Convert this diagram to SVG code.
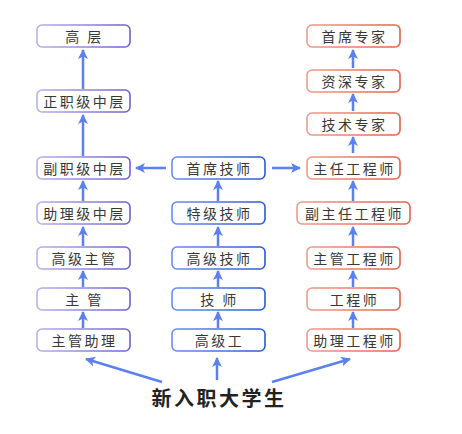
<svg xmlns="http://www.w3.org/2000/svg" width="462" height="434" viewBox="0 0 462 434">
<defs>
<linearGradient id="gp" x1="0" y1="0" x2="1" y2="0"><stop offset="0" stop-color="#b8b0ea"/><stop offset="1" stop-color="#6f5fd0"/></linearGradient>
<linearGradient id="gb" x1="0" y1="0" x2="1" y2="0"><stop offset="0" stop-color="#6a8cf0"/><stop offset="1" stop-color="#2a5ad8"/></linearGradient>
<linearGradient id="gr" x1="0" y1="0" x2="1" y2="0"><stop offset="0" stop-color="#f29a88"/><stop offset="1" stop-color="#e4604c"/></linearGradient>
<marker id="ah" viewBox="0 0 10 10" refX="9" refY="5" markerWidth="4" markerHeight="4" orient="auto" markerUnits="strokeWidth"><path d="M0,0 L10,5 L0,10 L2.5,5 Z" fill="#5b80f0"/></marker>
</defs>
<style>
rect{fill:#fff;stroke-width:1.6}
.p{stroke:url(#gp)}.b{stroke:url(#gb)}.r{stroke:url(#gr)}
text{font-family:"Noto Sans CJK SC","Noto Sans",sans-serif;font-size:14px;fill:#383838;text-anchor:middle;dominant-baseline:central;letter-spacing:2.5px}
.c line{stroke:#5b80f0;stroke-width:2.5;marker-end:url(#ah)}
.big{font-size:20px;font-weight:bold;letter-spacing:2.5px;fill:#222}
</style>
<rect width="462" height="434" fill="#fff" stroke="none"/>
<g class="c">
<line x1="83" y1="89" x2="83" y2="50"/>
<line x1="83" y1="156" x2="83" y2="115"/>
<line x1="218" y1="201" x2="218" y2="181"/>
<line x1="218" y1="246" x2="218" y2="227"/>
<line x1="218" y1="287" x2="218" y2="271"/>
<line x1="218" y1="328" x2="218" y2="312"/>
<line x1="353" y1="68" x2="353" y2="50"/>
<line x1="353" y1="111" x2="353" y2="94"/>
<line x1="353" y1="153" x2="353" y2="137"/>
<line x1="353" y1="201" x2="353" y2="181"/>
<line x1="353" y1="246" x2="353" y2="227"/>
<line x1="353" y1="287" x2="353" y2="271"/>
<line x1="353" y1="328" x2="353" y2="312"/>
<line x1="83" y1="201" x2="83" y2="181"/>
<line x1="83" y1="246" x2="83" y2="227"/>
<line x1="83" y1="287" x2="83" y2="271"/>
<line x1="83" y1="328" x2="83" y2="312"/>
<line x1="166" y1="168" x2="136" y2="168"/>
<line x1="272" y1="168" x2="300" y2="168"/>
<line x1="162" y1="382" x2="86" y2="359"/>
<line x1="217" y1="380" x2="217" y2="358"/>
<line x1="272" y1="382" x2="350" y2="359"/>
</g>
<g id="n-gaoceng"><rect class="p" x="37" y="25" width="93" height="22" rx="5"/><text x="84.5" y="36">高&#160;层</text></g>
<g id="n-zhengzhi"><rect class="p" x="37" y="90" width="93" height="22" rx="5"/><text x="84.5" y="101">正职级中层</text></g>
<g id="n-fuzhi"><rect class="p" x="37" y="157" width="93" height="22" rx="5"/><text x="84.5" y="168">副职级中层</text></g>
<g id="n-zhuli"><rect class="p" x="37" y="202" width="93" height="22" rx="5"/><text x="84.5" y="213">助理级中层</text></g>
<g id="n-gaojizhuguan"><rect class="p" x="37" y="247" width="93" height="22" rx="5"/><text x="84.5" y="258">高级主管</text></g>
<g id="n-zhuguan"><rect class="p" x="37" y="288" width="93" height="22" rx="5"/><text x="84.5" y="299">主&#160;管</text></g>
<g id="n-zhuguanzhuli"><rect class="p" x="37" y="329" width="93" height="22" rx="5"/><text x="84.5" y="340">主管助理</text></g>
<g id="n-shouxijishi"><rect class="b" x="172" y="157" width="93" height="22" rx="5"/><text x="219.5" y="168">首席技师</text></g>
<g id="n-tejijishi"><rect class="b" x="172" y="202" width="93" height="22" rx="5"/><text x="219.5" y="213">特级技师</text></g>
<g id="n-gaojijishi"><rect class="b" x="172" y="247" width="93" height="22" rx="5"/><text x="219.5" y="258">高级技师</text></g>
<g id="n-jishi"><rect class="b" x="172" y="288" width="93" height="22" rx="5"/><text x="219.5" y="299">技&#160;师</text></g>
<g id="n-gaojigong"><rect class="b" x="172" y="329" width="93" height="22" rx="5"/><text x="219.5" y="340">高级工</text></g>
<g id="n-shouxizhuanjia"><rect class="r" x="307" y="25" width="93" height="22" rx="5"/><text x="354.5" y="36">首席专家</text></g>
<g id="n-zishen"><rect class="r" x="307" y="70" width="93" height="22" rx="5"/><text x="354.5" y="81">资深专家</text></g>
<g id="n-jishu"><rect class="r" x="307" y="113" width="93" height="22" rx="5"/><text x="354.5" y="124">技术专家</text></g>
<g id="n-zhuren"><rect class="r" x="307" y="157" width="93" height="22" rx="5"/><text x="354.5" y="168">主任工程师</text></g>
<g id="n-fuzhuren"><rect class="r" x="297" y="202" width="113" height="22" rx="5"/><text x="354.5" y="213">副主任工程师</text></g>
<g id="n-zhuguangcs"><rect class="r" x="307" y="247" width="93" height="22" rx="5"/><text x="354.5" y="258">主管工程师</text></g>
<g id="n-gcs"><rect class="r" x="307" y="288" width="93" height="22" rx="5"/><text x="354.5" y="299">工程师</text></g>
<g id="n-zhuligcs"><rect class="r" x="307" y="329" width="93" height="22" rx="5"/><text x="354.5" y="340">助理工程师</text></g>
<g id="n-xinruzhi"><text class="big" x="219" y="397">新入职大学生</text></g>
</svg>
